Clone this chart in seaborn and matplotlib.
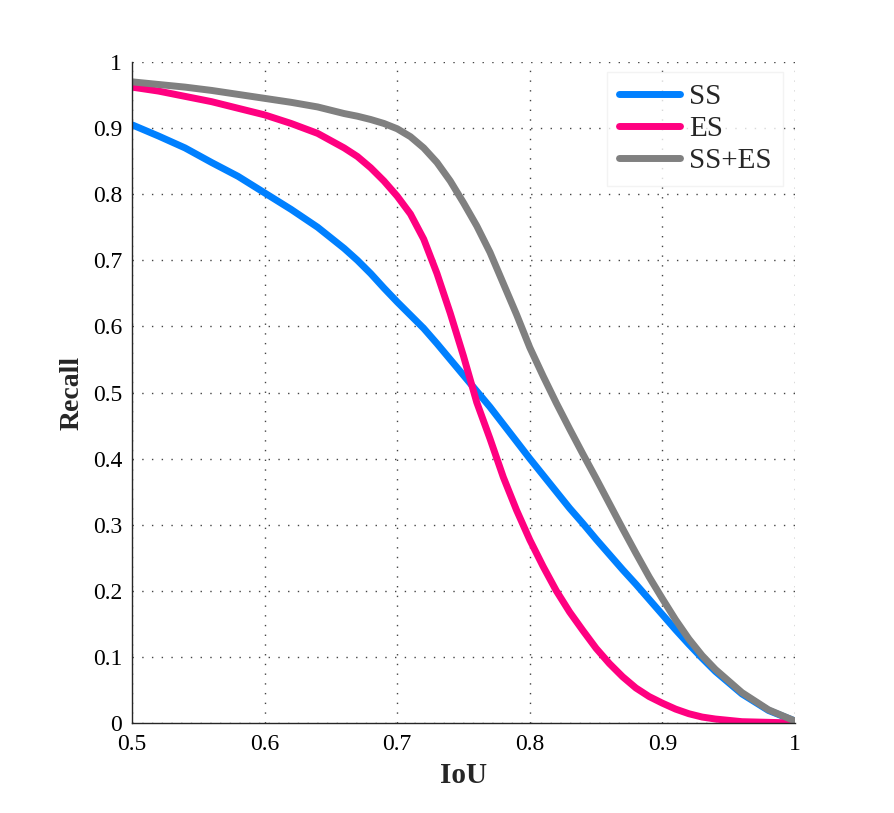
import numpy as np
import pandas as pd
import matplotlib
matplotlib.use('Agg')
import matplotlib.pyplot as plt
from matplotlib.ticker import FormatStrFormatter
import seaborn as sns

iou = [0.50, 0.52, 0.54, 0.56, 0.58, 0.60, 0.62, 0.64, 0.66, 0.67,
       0.68, 0.69, 0.70, 0.71, 0.72, 0.73, 0.74, 0.75, 0.76, 0.77,
       0.78, 0.79, 0.80, 0.81, 0.82, 0.83, 0.84, 0.85, 0.86, 0.87,
       0.88, 0.89, 0.90, 0.91, 0.92, 0.93, 0.94, 0.96, 0.98, 1.00]

recall_ss = [0.905, 0.888, 0.870, 0.848, 0.827, 0.802, 0.777, 0.750, 0.718, 0.700,
             0.680, 0.658, 0.637, 0.617, 0.597, 0.574, 0.550, 0.526, 0.502, 0.478,
             0.452, 0.426, 0.400, 0.375, 0.350, 0.325, 0.302, 0.278, 0.255, 0.232,
             0.210, 0.187, 0.164, 0.141, 0.119, 0.098, 0.078, 0.044, 0.019, 0.003]

recall_es = [0.962, 0.956, 0.948, 0.940, 0.930, 0.920, 0.907, 0.892, 0.870, 0.857,
             0.840, 0.820, 0.797, 0.770, 0.732, 0.680, 0.620, 0.555, 0.485, 0.430,
             0.372, 0.322, 0.277, 0.237, 0.200, 0.168, 0.140, 0.113, 0.090, 0.070,
             0.053, 0.040, 0.030, 0.021, 0.014, 0.009, 0.006, 0.002, 0.001, 0.000]

recall_both = [0.970, 0.966, 0.962, 0.957, 0.951, 0.945, 0.939, 0.932, 0.922, 0.918,
               0.913, 0.907, 0.899, 0.887, 0.870, 0.848, 0.820, 0.787, 0.752, 0.712,
               0.665, 0.618, 0.568, 0.525, 0.484, 0.445, 0.407, 0.370, 0.332, 0.294,
               0.257, 0.221, 0.188, 0.156, 0.127, 0.102, 0.081, 0.046, 0.020, 0.003]

methods = ['SS', 'ES', 'SS+ES']
colors = {'SS': '#0080ff', 'ES': '#ff0080', 'SS+ES': '#808080'}

df = pd.concat([
    pd.DataFrame({'IoU': iou, 'Recall': recall_ss, 'method': 'SS'}),
    pd.DataFrame({'IoU': iou, 'Recall': recall_es, 'method': 'ES'}),
    pd.DataFrame({'IoU': iou, 'Recall': recall_both, 'method': 'SS+ES'}),
])

sns.set_style('white')
plt.rcParams['font.family'] = ['Liberation Serif', 'DejaVu Serif']

fig = plt.figure(figsize=(8.94, 8.13), dpi=100)
ax = fig.add_axes([132/894, 1 - 723/813, 663/894, 661/813])

sns.lineplot(data=df, x='IoU', y='Recall', hue='method', hue_order=methods,
             palette=colors, linewidth=5, ax=ax, legend=False)

ax.set_xlim(0.5, 1)
ax.set_ylim(0, 1)
ax.set_xticks(np.arange(0.5, 1.01, 0.1))
ax.set_yticks(np.arange(0, 1.01, 0.1))
ax.xaxis.set_major_formatter(FormatStrFormatter('%g'))
ax.yaxis.set_major_formatter(FormatStrFormatter('%g'))
ax.tick_params(direction='in', length=6, width=1, colors='#262626',
               labelsize=17, labelcolor='black')
ax.tick_params(axis='y', pad=7)
ax.tick_params(axis='x', pad=8)

# dotted grid like the matlab original
ax.grid(True, color='#444444', linestyle=(0, (1, 6)), linewidth=1)
ax.set_axisbelow(True)
for s in ['top', 'right']:
    ax.spines[s].set_visible(False)
for s in ['left', 'bottom']:
    ax.spines[s].set_color('#262626')
    ax.spines[s].set_linewidth(1)

ax.set_xlabel('IoU', fontsize=21, fontweight='bold')
ax.set_ylabel('Recall', fontsize=20, fontweight='bold')
ax.xaxis.set_label_coords(0.5, -0.059)
ax.yaxis.set_label_coords(-0.072, 0.5)

handles = [plt.Line2D([], [], color=colors[m], linewidth=5) for m in methods]
leg = ax.legend(handles, methods, loc='upper right', bbox_to_anchor=(0.982, 0.985),
                borderaxespad=0, fontsize=21, handlelength=2.1, handletextpad=0.3,
                labelspacing=0.2, frameon=True, fancybox=False, borderpad=0.4)
leg.get_frame().set_edgecolor('#f0f0f0')
leg.get_frame().set_facecolor('white')
leg.get_frame().set_linewidth(1)

fig.savefig('out.png', dpi=100)
